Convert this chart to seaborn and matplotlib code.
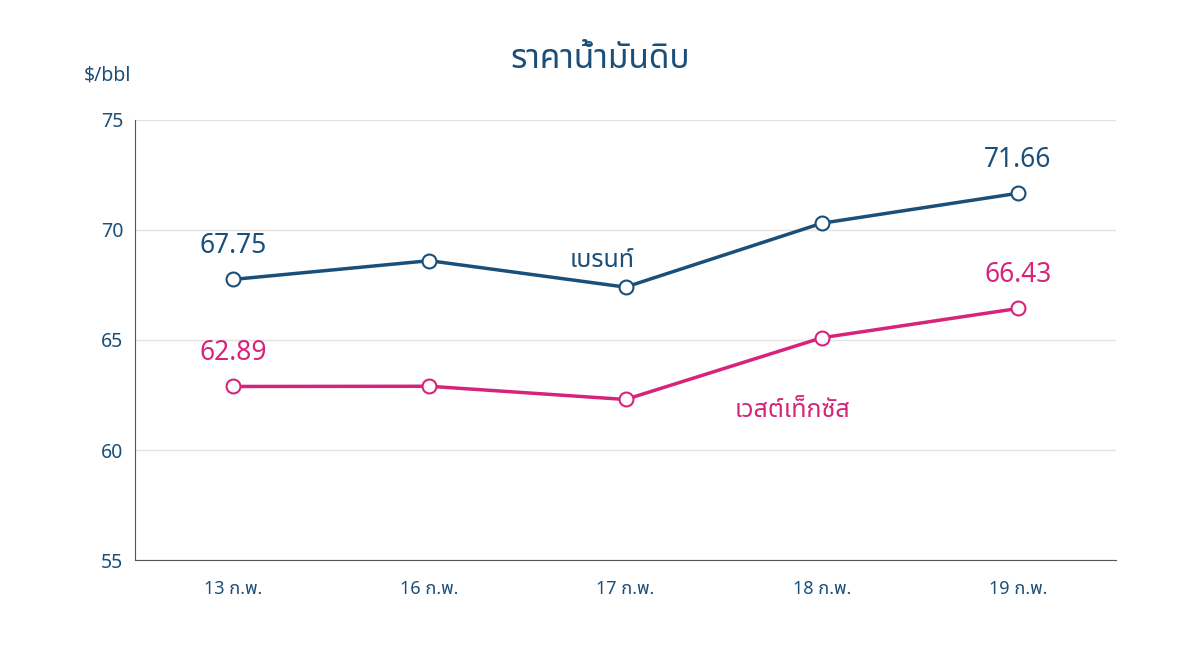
import matplotlib
matplotlib.use("Agg")
from matplotlib import pyplot as plt
import numpy as np
import pandas as pd
import seaborn as sns

dates = ["13 ก.พ.", "16 ก.พ.", "17 ก.พ.", "18 ก.พ.", "19 ก.พ."]
brent = [67.75, 68.6, 67.4, 70.3, 71.66]
wti = [62.89, 62.9, 62.3, 65.1, 66.43]

BLUE = "#1a4f7a"
PINK = "#d6247a"

sns.set_style("white")
plt.rcParams['font.family'] = ['Noto Sans Thai', 'Noto Sans', 'DejaVu Sans']

df = pd.DataFrame({"x": np.arange(len(dates)), "brent": brent, "wti": wti})

fig = plt.figure(figsize=(12, 6.47), dpi=100)
ax = fig.add_axes([0.1125, 0.134, 0.8175, 0.681])
for col, c in (("brent", BLUE), ("wti", PINK)):
    sns.lineplot(data=df, x="x", y=col, ax=ax, color=c, linewidth=2.5,
                 marker="o", markersize=10, markerfacecolor="white",
                 markeredgecolor=c, markeredgewidth=1.5)

ax.set_xlim(-0.5, 4.5)
ax.set_ylim(55, 75)
ax.set_yticks([55, 60, 65, 70, 75])
ax.set_xticks(range(len(dates)))
ax.set_xticklabels(dates, fontsize=13, fontweight="bold", color=BLUE)
ax.set_xticks(np.arange(-0.5, 4.6, 1), minor=True)
ax.tick_params(axis="x", which="major", length=0, pad=14)
ax.tick_params(axis="x", which="minor", length=5, color="#555555")
ax.tick_params(axis="y", length=5, color="#555555", labelsize=14, labelcolor=BLUE)
for t in ax.get_yticklabels():
    t.set_fontweight("bold")
ax.yaxis.grid(True, color="#e3e3e3", linewidth=1)
for s in ("top", "right"):
    ax.spines[s].set_visible(False)
for s in ("left", "bottom"):
    ax.spines[s].set_color("#555555")
ax.set_xlabel("")
ax.set_ylabel("")

ax.text(0, brent[0] + 1.2, f"{brent[0]:.2f}", ha="center", fontsize=19, fontweight="bold", color=BLUE)
ax.text(4, brent[4] + 1.2, f"{brent[4]:.2f}", ha="center", fontsize=19, fontweight="bold", color=BLUE)
ax.text(0, wti[0] + 1.2, f"{wti[0]:.2f}", ha="center", fontsize=19, fontweight="bold", color=PINK)
ax.text(4, wti[4] + 1.2, f"{wti[4]:.2f}", ha="center", fontsize=19, fontweight="bold", color=PINK)
ax.text(1.88, 68.3, "เบรนท์", ha="center", fontsize=18, fontweight="bold", color=BLUE)
ax.text(2.85, 61.5, "เวสต์เท็กซัส", ha="center", fontsize=18, fontweight="bold", color=PINK)

fig.text(0.5, 0.895, "ราคาน้ำมันดิบ", ha="center", fontsize=24, fontweight="bold", color=BLUE)
fig.text(0.07, 0.875, "$/bbl", fontsize=14, fontweight="bold", color=BLUE)

fig.savefig("out.png")
